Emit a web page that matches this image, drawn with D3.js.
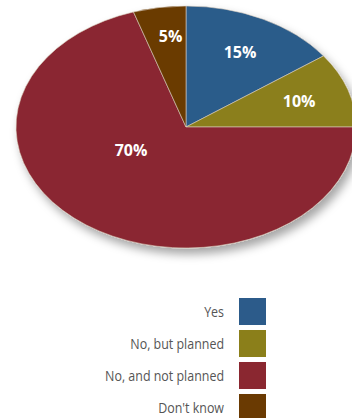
<!DOCTYPE html>
<html>
<head>
<meta charset="utf-8">
<script src="https://cdn.jsdelivr.net/npm/d3@7"></script>
<style>
  html, body { margin: 0; padding: 0; background: #fff; }
  svg { display: block; }
</style>
</head>
<body>
<svg id="chart" width="352" height="418"></svg>
<script>
// Survey answers and their shares (percent)
const categories = ["Yes", "No, but planned", "No, and not planned", "Don't know"];
const values = [15, 10, 70, 5];
const colors = ["#2c5b8a", "#8b7f1a", "#8a2730", "#6a3a02"];

const W = 352, H = 418;
const svg = d3.select("#chart");

// Elliptical pie: draw a circular pie of radius rx, then squash vertically
const cx = 186, cy = 127, rx = 170, ry = 121;

const defs = svg.append("defs");
const shadow = defs.append("filter").attr("id", "shadow")
  .attr("x", "-20%").attr("y", "-20%").attr("width", "140%").attr("height", "150%");
shadow.append("feDropShadow")
  .attr("dx", 4).attr("dy", 6).attr("stdDeviation", 5)
  .attr("flood-color", "#000").attr("flood-opacity", 0.35);

const pie = d3.pie().sort(null).value(d => d)(values);
const arc = d3.arc().innerRadius(0).outerRadius(rx);

const pieG = svg.append("g")
  .attr("filter", "url(#shadow)");
const squash = pieG.append("g")
  .attr("transform", `translate(${cx},${cy}) scale(1,${ry / rx})`);

squash.selectAll("path")
  .data(pie)
  .join("path")
  .attr("d", arc)
  .attr("fill", (d, i) => colors[i])
  .attr("stroke", "#d8cfc0")
  .attr("stroke-width", 0.6)
  .attr("vector-effect", "non-scaling-stroke");

// Label anchors as (radius fraction, angle) in the ellipse's parameter space;
// a null angle means the slice's mid-angle
const labelPlace = [
  { f: 0.70, a: null },
  { f: 0.70, a: null },
  { f: 0.375, a: 4.18 },
  { f: 0.76, a: -0.12 }
];
const fmt = v => v + "%";

svg.append("g")
  .selectAll("text")
  .data(pie)
  .join("text")
  .attr("x", (d, i) => {
    const a = labelPlace[i].a ?? (d.startAngle + d.endAngle) / 2;
    return cx + Math.sin(a) * rx * labelPlace[i].f;
  })
  .attr("y", (d, i) => {
    const a = labelPlace[i].a ?? (d.startAngle + d.endAngle) / 2;
    return cy - Math.cos(a) * ry * labelPlace[i].f;
  })
  .attr("text-anchor", "middle")
  .attr("dominant-baseline", "central")
  .attr("fill", "#fff")
  .attr("font-family", "'Open Sans', sans-serif")
  .attr("font-weight", "bold")
  .attr("font-size", 16)
  .text(d => fmt(d.data));

// Legend: right-aligned, slightly condensed labels with square swatches
const legend = svg.append("g");
const ly = d3.scaleBand().domain(categories).range([298, 421]).paddingInner(0.156).paddingOuter(0);
const rows = legend.selectAll("g")
  .data(categories)
  .join("g")
  .attr("transform", d => `translate(0,${ly(d)})`);

rows.append("rect")
  .attr("x", 239)
  .attr("width", 27)
  .attr("height", ly.bandwidth())
  .attr("fill", (d, i) => colors[i]);

rows.append("text")
  .attr("transform", `translate(224,${ly.bandwidth() / 2}) scale(0.83,1)`)
  .attr("text-anchor", "end")
  .attr("dominant-baseline", "central")
  .attr("fill", "#555")
  .attr("font-family", "'Open Sans', sans-serif")
  .attr("font-size", 15)
  .text(d => d);
</script>
</body>
</html>
